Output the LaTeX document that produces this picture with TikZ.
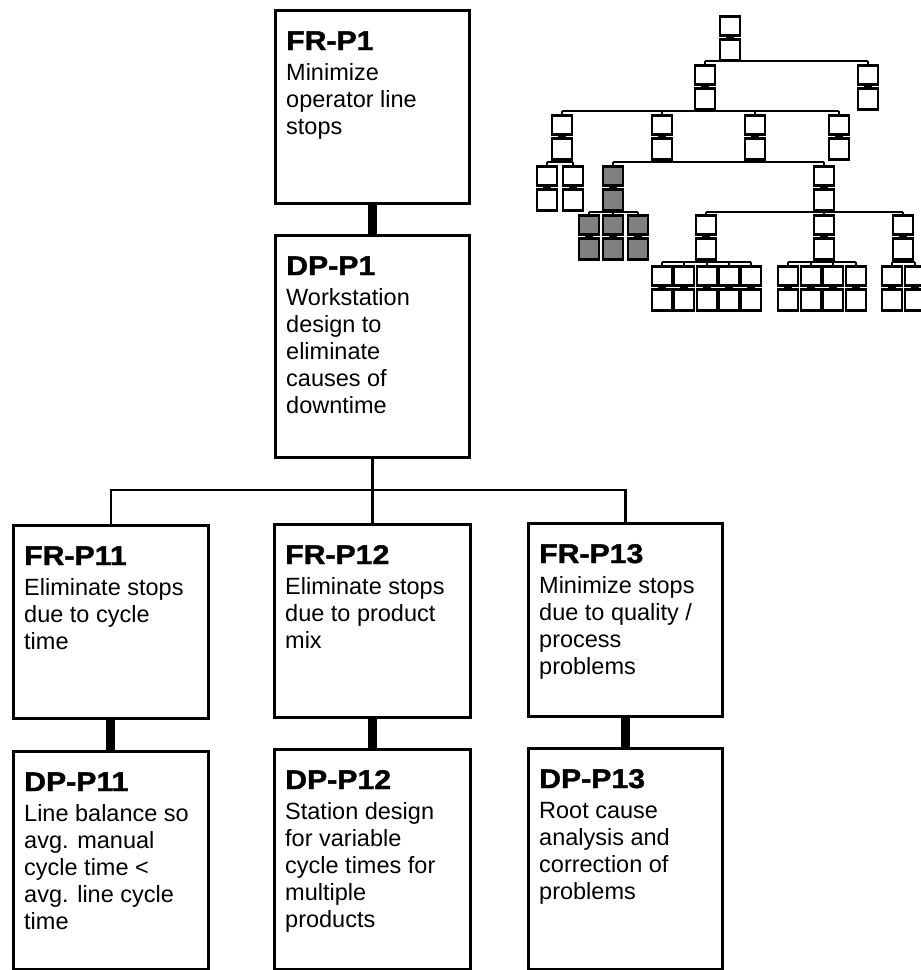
\documentclass[tikz,border=0pt]{standalone}
\usepackage{fontspec}
\setmainfont{Liberation Sans}
\newfontfamily\headfont[FakeStretch=1.12,BoldFeatures={FakeBold=1.5}]{Liberation Sans}
\colorlet{treegrey}{black!50}

% one FR/DP pair of the small overview tree: #1 name, #2 centre x, #3 top y, #4 fill
\newcommand\fdpair[4]{%
  \node[minibox, minimum height=19pt, fill=#4] (#1u) at (#2,#3) {};
  \node[minibox, minimum height=21pt, fill=#4] (#1l) at (#2,#3+23) {};
  \draw[ministem] (#1u.south) -- (#1l.north);
}
% parent #1, first child #2, last child #3, bus level #4, all children #5
\newcommand\treejoin[5]{%
  \draw[minilink] (#1l.south) -- (#1l.south |- #4);
  \draw[minilink] (#2u.north |- #4) -- (#3u.north |- #4);
  \foreach \nm in {#5} {\draw[minilink] (\nm u.north) -- (\nm u.north |- #4);}
}

\begin{document}
\begin{tikzpicture}[x=1pt,y=-1pt,
  mainbox/.style={draw, line width=2.6pt, anchor=north west, inner sep=0pt, fill=white},
  headtext/.style={anchor=base west, inner sep=0pt, font=\headfont\bfseries\fontsize{27}{30}\selectfont},
  bodytext/.style={anchor=base west, inner sep=0pt, font=\fontsize{23.5}{27}\selectfont},
  link/.style={line width=2.4pt},
  stem/.style={line width=9pt},
  minibox/.style={draw, line width=2.8pt, minimum width=20pt, inner sep=0pt, anchor=north},
  minilink/.style={line width=2.3pt},
  ministem/.style={line width=8pt}
]
\useasboundingbox (0,0) rectangle (921,970);
\clip (0,0) rectangle (921,970);
\fill[white] (0,0) rectangle (921,970);

% ---------- main decomposition ----------
\node[mainbox, minimum width=194pt, minimum height=193pt] (frp1)  at (274,9)   {};
\node[mainbox, minimum width=194pt, minimum height=222pt] (dpp1)  at (274,234) {};
\node[mainbox, minimum width=195pt, minimum height=193pt] (frp11) at (12,524)  {};
\node[mainbox, minimum width=196pt, minimum height=193pt] (frp12) at (273,523) {};
\node[mainbox, minimum width=194pt, minimum height=193pt] (frp13) at (527,522) {};
\node[mainbox, minimum width=195pt, minimum height=218pt] (dpp11) at (12,750)  {};
\node[mainbox, minimum width=196pt, minimum height=220pt] (dpp12) at (273,748) {};
\node[mainbox, minimum width=194pt, minimum height=221pt] (dpp13) at (527,747) {};

% FR -> DP stems
\draw[stem] (frp1.south)  -- (dpp1.north);
\draw[stem] (frp11.south) -- (dpp11.north);
\draw[stem] (frp12.south) -- (dpp12.north);
\draw[stem] (frp13.south) -- (dpp13.north);

% DP-P1 -> children
\coordinate (mainbus) at (0,490);
\draw[link] (dpp1.south) -- (dpp1.south |- mainbus);
\draw[link] (frp11.north) |- (frp13.north |- mainbus) -- (frp13.north);
\draw[link] (frp12.north) -- (frp12.north |- mainbus);

% texts
\newcommand\boxtext[3]{%
  \node[headtext] (#1h) at ([xshift=12pt,yshift=-41pt]#1.north west) {#2};
  \node[bodytext] (#1t) at ([xshift=12pt,yshift=-71pt]#1.north west)
    {\parbox[t]{180pt}{\raggedright #3}};
}
\boxtext{frp1}{FR-P1}{Minimize\\operator line\\stops}
\boxtext{dpp1}{DP-P1}{Workstation\\design to\\eliminate\\causes of\\downtime}
\boxtext{frp11}{FR-P11}{Eliminate stops\\due to cycle\\time}
\boxtext{frp12}{FR-P12}{Eliminate stops\\due to product\\mix}
\boxtext{frp13}{FR-P13}{Minimize stops\\due to quality /\\process\\problems}
\boxtext{dpp11}{DP-P11}{Line balance so\\avg. manual\\cycle time <\\avg. line cycle\\time}
\boxtext{dpp12}{DP-P12}{Station design\\for variable\\cycle times for\\multiple\\products}
\boxtext{dpp13}{DP-P13}{Root cause\\analysis and\\correction of\\problems}

% ---------- overview tree ----------
\coordinate (ya) at (0,61);
\coordinate (yb) at (0,111);
\coordinate (yc) at (0,162);
\coordinate (yd) at (0,212);
\coordinate (ye) at (0,262);

% level 0
\fdpair{r}{730}{15}{white}
% level 1
\fdpair{a}{705}{64}{white}
\fdpair{b}{868}{64}{white}
% level 2
\fdpair{ca}{562}{114}{white}
\fdpair{cb}{662}{114}{white}
\fdpair{cc}{755}{114}{white}
\fdpair{cd}{839}{114}{white}
% level 3
\fdpair{da}{547}{165}{white}
\fdpair{db}{573}{165}{white}
\fdpair{g}{613}{165}{treegrey}
\fdpair{e}{824}{165}{white}
% level 4
\fdpair{ga}{589}{214}{treegrey}
\fdpair{gb}{613}{214}{treegrey}
\fdpair{gc}{638}{214}{treegrey}
\fdpair{fa}{706}{214}{white}
\fdpair{fb}{824}{214}{white}
\fdpair{fc}{903}{214}{white}
% level 5
\fdpair{ha}{662}{265}{white}
\fdpair{hb}{684}{265}{white}
\fdpair{hc}{707}{265}{white}
\fdpair{hd}{729}{265}{white}
\fdpair{he}{751}{265}{white}
\fdpair{ka}{788}{265}{white}
\fdpair{kb}{811}{265}{white}
\fdpair{kc}{833}{265}{white}
\fdpair{kd}{856}{265}{white}
\fdpair{ma}{892}{265}{white}
\fdpair{mb}{915}{265}{white}

\treejoin{r}{a}{b}{ya}{a,b}
\treejoin{a}{ca}{cd}{yb}{ca,cb,cc,cd}
\treejoin{ca}{da}{db}{yc}{da,db}
\treejoin{cb}{g}{e}{yc}{g,e}
\treejoin{g}{ga}{gc}{yd}{ga,gb,gc}
\treejoin{e}{fa}{fc}{yd}{fa,fb,fc}
\treejoin{fa}{ha}{he}{ye}{ha,hb,hc,hd,he}
\treejoin{fb}{ka}{kd}{ye}{ka,kb,kc,kd}
\treejoin{fc}{ma}{mb}{ye}{ma,mb}
\end{tikzpicture}
\end{document}
